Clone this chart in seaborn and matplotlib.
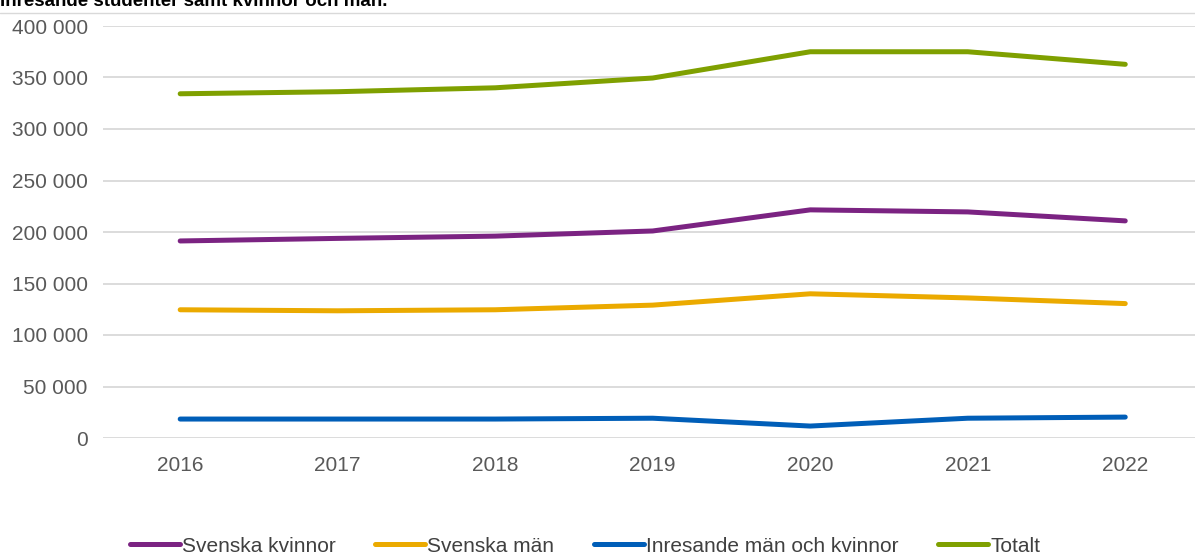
import matplotlib
matplotlib.use("Agg")
import matplotlib.pyplot as plt
import seaborn as sns
import pandas as pd
from matplotlib.ticker import FuncFormatter
from matplotlib.lines import Line2D

years = ["2016", "2017", "2018", "2019", "2020", "2021", "2022"]
svenska_kvinnor = [191300, 193800, 196000, 201000, 221500, 219500, 210800]
svenska_man = [124500, 123500, 124500, 129000, 140000, 136000, 130500]
inresande = [18400, 18400, 18400, 19200, 11600, 19200, 20300]
totalt = [334200, 336200, 340000, 349500, 375000, 375000, 362800]

series_names = ["Svenska kvinnor", "Svenska män", "Inresande män och kvinnor", "Totalt"]
series_values = [svenska_kvinnor, svenska_man, inresande, totalt]
colors = ["#7B2382", "#EBAA00", "#005EB8", "#7FA000"]

rows = []
for name, vals in zip(series_names, series_values):
    for i, (yr, v) in enumerate(zip(years, vals)):
        rows.append({"pos": i, "year": yr, "value": v, "serie": name})
df = pd.DataFrame(rows)

sns.set_theme(style="white")
plt.rcParams["font.family"] = ["Liberation Sans", "DejaVu Sans"]

fig = plt.figure(figsize=(11.95, 5.54), dpi=100)
W, H = 1195, 554
x0, x1 = 103, 1204
y0, y1 = 438, 26
ax = fig.add_axes([x0 / W, 1 - y0 / H, (x1 - x0) / W, (y0 - y1) / H])

sns.lineplot(data=df, x="pos", y="value", hue="serie", hue_order=series_names,
             palette=colors, linewidth=3.6, ax=ax, legend=False,
             solid_capstyle="round", solid_joinstyle="round")

ax.set_xlim(-0.49, 6.5)
ax.set_ylim(0, 400000)
ax.set_yticks(range(0, 400001, 50000))
ax.yaxis.set_major_formatter(FuncFormatter(lambda v, p: f"{int(v):,}".replace(",", " ")))
ax.set_xticks(range(len(years)))
ax.set_xticklabels(years)
ax.grid(axis="y", color="#D9D9D9", linewidth=1.3)
ax.set_axisbelow(True)
for s in ax.spines.values():
    s.set_visible(False)
ax.tick_params(axis="both", length=0, labelsize=15, labelcolor="#595959")
ax.tick_params(axis="y", pad=11)
ax.tick_params(axis="x", pad=13)
ax.set_xlabel("")
ax.set_ylabel("")

# title (cut off at top) and separator line
fig.text(0.0, 1 - 6 / H, "Inresande studenter samt kvinnor och män.", fontsize=13.5,
         fontweight="bold", color="black", ha="left", va="baseline")
fig.add_artist(Line2D([0, 1], [1 - 13 / H, 1 - 13 / H], transform=fig.transFigure,
                      color="#D9D9D9", linewidth=1.0))

handles = [Line2D([0], [0], color=c, linewidth=3.6, solid_capstyle="round") for c in colors]
fig.legend(handles, series_names, loc="center", bbox_to_anchor=(585 / W, 1 - 546 / H),
           ncol=4, frameon=False, fontsize=15, handlelength=2.4, handletextpad=0.1,
           columnspacing=1.9, labelcolor="#404040")

fig.savefig("out.png", dpi=100, facecolor="white")
